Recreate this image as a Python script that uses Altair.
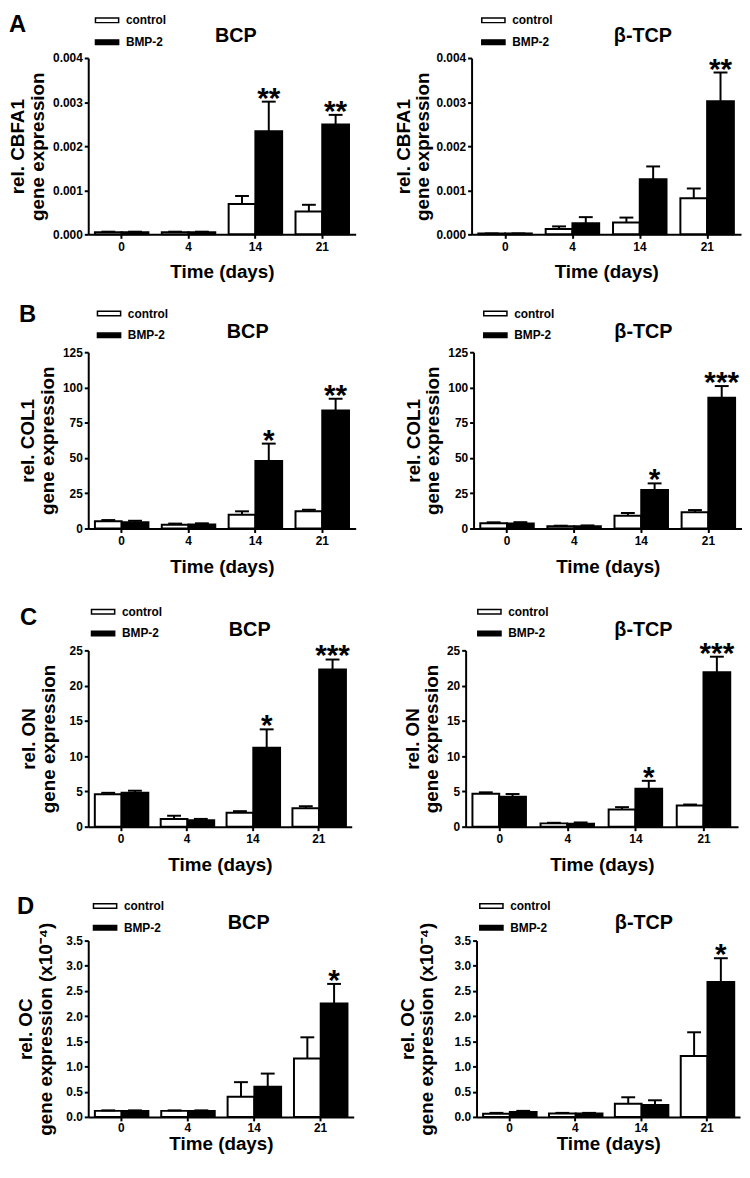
import altair as alt
import pandas as pd

FONT = "Liberation Sans"
days = ["0", "4", "14", "21"]
groups = ["control", "BMP-2"]
fills = ["white", "black"]
H = 178

# ---- A: CBFA1 ----
cbfa1_bcp_ctrl = [0.00005, 0.00005, 0.00069, 0.00052]
cbfa1_bcp_ctrl_sem = [0.00001, 0.00001, 0.00018, 0.00015]
cbfa1_bcp_bmp = [0.00005, 0.00005, 0.00234, 0.00249]
cbfa1_bcp_bmp_sem = [0.00001, 0.00001, 0.00067, 0.00022]
cbfa1_bcp_stars = ["", "", "**", "**"]

cbfa1_tcp_ctrl = [0.00002, 0.00012, 0.00027, 0.00082]
cbfa1_tcp_ctrl_sem = [0.0, 0.00006, 0.00011, 0.00022]
cbfa1_tcp_bmp = [0.00002, 0.00025, 0.00125, 0.00302]
cbfa1_tcp_bmp_sem = [0.0, 0.00014, 0.00029, 0.00065]
cbfa1_tcp_stars = ["", "", "", "**"]

# ---- B: COL1 ----
col1_bcp_ctrl = [5.1, 2.6, 9.8, 12.2]
col1_bcp_ctrl_sem = [0.9, 0.9, 2.4, 1.1]
col1_bcp_bmp = [4.4, 2.8, 47.8, 83.6]
col1_bcp_bmp_sem = [1.1, 0.9, 12.4, 8.4]
col1_bcp_stars = ["", "", "*", "**"]

col1_tcp_ctrl = [3.7, 1.6, 9.1, 11.5]
col1_tcp_ctrl_sem = [0.7, 0.4, 1.9, 1.6]
col1_tcp_bmp = [3.6, 1.6, 27.4, 92.7]
col1_tcp_bmp_sem = [0.9, 0.6, 4.6, 8.3]
col1_tcp_stars = ["", "", "*", "***"]

# ---- C: ON ----
on_bcp_ctrl = [4.6, 1.08, 1.97, 2.62]
on_bcp_ctrl_sem = [0.2, 0.47, 0.23, 0.28]
on_bcp_bmp = [4.8, 0.9, 11.2, 22.3]
on_bcp_bmp_sem = [0.3, 0.2, 2.6, 1.4]
on_bcp_stars = ["", "", "*", "***"]

on_tcp_ctrl = [4.68, 0.47, 2.43, 3.0]
on_tcp_ctrl_sem = [0.19, 0.08, 0.34, 0.14]
on_tcp_bmp = [4.26, 0.42, 5.38, 21.9]
on_tcp_bmp_sem = [0.37, 0.18, 1.12, 2.2]
on_tcp_stars = ["", "", "*", "***"]

# ---- D: OC (x10^-4) ----
oc_bcp_ctrl = [0.12, 0.12, 0.40, 1.16]
oc_bcp_ctrl_sem = [0.01, 0.01, 0.29, 0.42]
oc_bcp_bmp = [0.12, 0.12, 0.60, 2.25]
oc_bcp_bmp_sem = [0.01, 0.01, 0.26, 0.39]
oc_bcp_stars = ["", "", "", "*"]

oc_tcp_ctrl = [0.065, 0.07, 0.26, 1.21]
oc_tcp_ctrl_sem = [0.015, 0.01, 0.13, 0.47]
oc_tcp_bmp = [0.10, 0.07, 0.235, 2.68]
oc_tcp_bmp_sem = [0.02, 0.01, 0.095, 0.47]
oc_tcp_stars = ["", "", "", "*"]

y_cbfa1 = [0.0, 0.001, 0.002, 0.003, 0.004]
y_col1 = [0, 25, 50, 75, 100, 125]
y_on = [0, 5, 10, 15, 20, 25]
y_oc = [0.0, 0.5, 1.0, 1.5, 2.0, 2.5, 3.0, 3.5]


def panel(ctrl, ctrl_sem, bmp, bmp_sem, stars, ytitle, yticks, yfmt, title, lay):
    rows = []
    for i, d in enumerate(days):
        rows.append({"day": d, "group": "control", "mean": ctrl[i],
                     "upper": ctrl[i] + ctrl_sem[i], "star": ""})
        rows.append({"day": d, "group": "BMP-2", "mean": bmp[i],
                     "upper": bmp[i] + bmp_sem[i], "star": stars[i]})
    df = pd.DataFrame(rows)
    W = lay["w"]
    xenc = alt.X("day:N", sort=days,
                 scale=alt.Scale(paddingInner=0.2, paddingOuter=0.1),
                 axis=alt.Axis(title="Time (days)", labelAngle=0, tickSize=4,
                               labelPadding=lay["xlp"], titlePadding=lay["xtp"]))
    xo = alt.XOffset("group:N", sort=groups,
                     scale=alt.Scale(domain=groups, paddingInner=0, paddingOuter=0))
    yscale = alt.Scale(domain=[0, yticks[-1]], nice=False, zero=True)
    yaxis = alt.Axis(title=ytitle, values=yticks, format=yfmt, tickSize=4,
                     labelPadding=2, titleX=lay["ytx"], titleLineHeight=20)
    base = alt.Chart(df)
    legend = alt.Legend(title=None, orient="none", legendX=lay["lx"], legendY=lay["ly"],
                        direction="vertical",
                        symbolType="M-1.95,-0.38H1.95V0.38H-1.95Z", symbolSize=144,
                        symbolStrokeColor="black", symbolStrokeWidth=1.5,
                        symbolOpacity=1,
                        labelFont=FONT, labelFontSize=12, labelFontWeight="bold",
                        labelColor="black", labelOffset=12, rowPadding=9, padding=0)
    bars = base.mark_bar(stroke="black", strokeWidth=2).encode(
        x=xenc, xOffset=xo,
        y=alt.Y("mean:Q", scale=yscale, axis=yaxis),
        fill=alt.Fill("group:N", sort=groups,
                      scale=alt.Scale(domain=groups, range=fills), legend=legend),
    )
    err = base.mark_rule(color="black", strokeWidth=2).encode(
        x=xenc, xOffset=xo,
        y=alt.Y("mean:Q", scale=yscale, axis=yaxis), y2="upper:Q")
    cap = base.mark_tick(color="black", size=14, thickness=2, opacity=1).encode(
        x=xenc, xOffset=xo, y=alt.Y("upper:Q", scale=yscale, axis=yaxis))
    star = base.mark_text(font=FONT, fontSize=30, fontWeight="bold", color="black",
                          align="center", baseline="alphabetic", dy=6).encode(
        x=xenc, xOffset=xo, y=alt.Y("upper:Q", scale=yscale, axis=yaxis),
        text="star:N")
    ttl = alt.Chart(pd.DataFrame({"t": [title]})).mark_text(
        font=FONT, fontSize=20, fontWeight="bold", color="black",
        align="center", baseline="middle").encode(
        text="t:N", x=alt.value(W / 2 + lay["tdx"]), y=alt.value(lay["ty"]))
    anchor = alt.Chart(pd.DataFrame({"a": [0]})).mark_rule(
        opacity=0, strokeWidth=0).encode(
        x=alt.value(lay["ax"][0]), x2=alt.value(lay["ax"][1]),
        y=alt.value(lay["ay"][0]), y2=alt.value(lay["ay"][1]))
    layers = [bars, err, cap, star, ttl, anchor]
    if "letter" in lay:
        lt, lxp, lyp = lay["letter"]
        letter = alt.Chart(pd.DataFrame({"t": [lt]})).mark_text(
            font=FONT, fontSize=24, fontWeight="bold", color="black",
            align="left", baseline="middle").encode(
            text="t:N", x=alt.value(lxp), y=alt.value(lyp))
        layers.append(letter)
    return alt.layer(*layers).properties(width=W, height=H)


B = H + 55
lay_al = dict(w=270, ytx=-61, tdx=14, ty=-22, lx=12, ly=-45, letter=("A", -80, -33),
              ax=(-80, 272), ay=(-45, B), xlp=3, xtp=11)
lay_ar = dict(w=272, ytx=-59, tdx=37, ty=-22, lx=15, ly=-45,
              ax=(-90, 272), ay=(-45, B), xlp=3, xtp=11)
lay_bl = dict(w=270, ytx=-51, tdx=26, ty=-20, lx=14, ly=-46, letter=("B", -70, -37),
              ax=(-70, 272), ay=(-64, B), xlp=3, xtp=11)
lay_br = dict(w=271, ytx=-51, tdx=36, ty=-20, lx=15, ly=-46,
              ax=(-90, 271), ay=(-64, B), xlp=3, xtp=11)
lay_cl = dict(w=266, ytx=-50, tdx=30, ty=-20, lx=8, ly=-46, letter=("C", -69, -33),
              ax=(-69, 268), ay=(-68, B), xlp=3, xtp=11)
lay_cr = dict(w=275, ytx=-44, tdx=42, ty=-20, lx=17, ly=-46,
              ax=(-90, 275), ay=(-68, B), xlp=3, xtp=11)
lay_dl = dict(w=268, ytx=-53, tdx=28, ty=-18, lx=10, ly=-42, letter=("D", -72, -34),
              ax=(-72, 270), ay=(-60, H), xlp=2, xtp=1)
lay_dr = dict(w=266, ytx=-60, tdx=36, ty=-18, lx=8, ly=-42,
              ax=(-90, 266), ay=(-60, H), xlp=2, xtp=1)

t_cbfa1 = ["rel. CBFA1", "gene expression"]
t_col1 = ["rel. COL1", "gene expression"]
t_on = ["rel. ON", "gene expression"]
t_oc = ["rel. OC", "gene expression (x10\u207b\u2074)"]

p_al = panel(cbfa1_bcp_ctrl, cbfa1_bcp_ctrl_sem, cbfa1_bcp_bmp, cbfa1_bcp_bmp_sem,
             cbfa1_bcp_stars, t_cbfa1, y_cbfa1, ".3f", "BCP", lay_al)
p_ar = panel(cbfa1_tcp_ctrl, cbfa1_tcp_ctrl_sem, cbfa1_tcp_bmp, cbfa1_tcp_bmp_sem,
             cbfa1_tcp_stars, t_cbfa1, y_cbfa1, ".3f", "\u03b2-TCP", lay_ar)
p_bl = panel(col1_bcp_ctrl, col1_bcp_ctrl_sem, col1_bcp_bmp, col1_bcp_bmp_sem,
             col1_bcp_stars, t_col1, y_col1, "d", "BCP", lay_bl)
p_br = panel(col1_tcp_ctrl, col1_tcp_ctrl_sem, col1_tcp_bmp, col1_tcp_bmp_sem,
             col1_tcp_stars, t_col1, y_col1, "d", "\u03b2-TCP", lay_br)
p_cl = panel(on_bcp_ctrl, on_bcp_ctrl_sem, on_bcp_bmp, on_bcp_bmp_sem,
             on_bcp_stars, t_on, y_on, "d", "BCP", lay_cl)
p_cr = panel(on_tcp_ctrl, on_tcp_ctrl_sem, on_tcp_bmp, on_tcp_bmp_sem,
             on_tcp_stars, t_on, y_on, "d", "\u03b2-TCP", lay_cr)
p_dl = panel(oc_bcp_ctrl, oc_bcp_ctrl_sem, oc_bcp_bmp, oc_bcp_bmp_sem,
             oc_bcp_stars, t_oc, y_oc, ".1f", "BCP", lay_dl)
p_dr = panel(oc_tcp_ctrl, oc_tcp_ctrl_sem, oc_tcp_bmp, oc_tcp_bmp_sem,
             oc_tcp_stars, t_oc, y_oc, ".1f", "\u03b2-TCP", lay_dr)

row_a = alt.hconcat(p_al, p_ar, spacing=25).resolve_scale(fill="independent")
row_b = alt.hconcat(p_bl, p_br, spacing=27).resolve_scale(fill="independent")
row_c = alt.hconcat(p_cl, p_cr, spacing=23).resolve_scale(fill="independent")
row_d = alt.hconcat(p_dl, p_dr, spacing=32).resolve_scale(fill="independent")

chart = alt.vconcat(row_a, row_b, row_c, row_d, spacing=0).resolve_scale(
    fill="independent"
).properties(padding=0, background="white").configure_view(
    stroke=None
).configure_axis(
    grid=False, domainColor="black", domainWidth=2, tickColor="black", tickWidth=2,
    labelColor="black", titleColor="black", labelFont=FONT, titleFont=FONT,
    labelFontWeight="bold", titleFontWeight="bold", labelFontSize=12, titleFontSize=19,
)

chart.save("out.html", embed_options={"renderer": "svg", "actions": False})
